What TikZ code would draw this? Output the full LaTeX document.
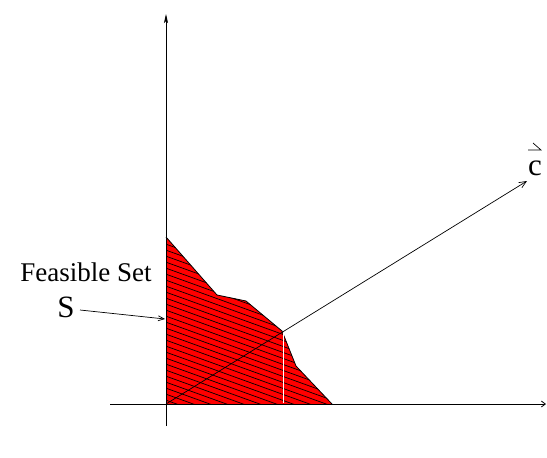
\documentclass[tikz,border=0pt]{standalone}
\usepackage{fontspec}
\setmainfont{Liberation Serif}
\usetikzlibrary{arrows.meta}
\begin{document}
\begin{tikzpicture}[x=1pt,y=-1pt,
  axis/.style={line width=0.8pt,-{Stealth[length=9pt,width=4pt,inset=2pt]}},
  vecline/.style={line width=0.7pt,-{Straight Barb[length=7pt,width=6pt]}},
  lbl/.style={inner sep=0pt,font=\fontsize{27}{30}\selectfont}]
\useasboundingbox (0,0) rectangle (547,458);
% feasible set
\coordinate (p0) at (166,404);
\coordinate (p1) at (166,237);
\coordinate (p2) at (217,295);
\coordinate (p3) at (246,301);
\coordinate (p4) at (282,331);
\coordinate (p5) at (296,366);
\coordinate (p6) at (332,404);
\fill[red] (p0)--(p1)--(p2)--(p3)--(p4)--(p5)--(p6)--cycle;
\begin{scope}
  \clip (p0)--(p1)--(p2)--(p3)--(p4)--(p5)--(p6)--cycle;
  \foreach \k in {-40,...,40} {
    \draw[line width=0.7pt] (160,{200+6*\k}) -- (340,{200+6*\k+65});
  }
\end{scope}
\draw[line width=0.8pt] (p1)--(p2)--(p3)--(p4)--(p5)--(p6);
% white line
\draw[white,line width=1pt] (283,333) -- (283,403);
% axes
\coordinate (xs) at (110,404);
\coordinate (xe) at (546,404);
\coordinate (ys) at (166,426);
\coordinate (ye) at (166,14);
\draw[line width=0.8pt,-{Straight Barb[length=4pt,width=6pt]}] (xs) -- (xe);
\draw[axis] (ys) -- (ye);
% vector c
\coordinate (ct) at (527,181);
\draw[vecline] (p0) -- (ct);
\node[lbl,anchor=base,font=\fontsize{31}{34}\selectfont] (c) at (535,175) {c};
\draw[line width=0.7pt] (528,150) -- (541,150) -- (533,143);
% labels
\node[lbl,anchor=base] (fs) at (86,281) {Feasible Set};
\node[lbl,anchor=base,font=\fontsize{31}{34}\selectfont] (s) at (66,317) {S};
\coordinate (sa) at (165,319);
\draw[line width=0.7pt,-{Straight Barb[length=6pt,width=5pt]}] (80,310) -- (sa);
\end{tikzpicture}
\end{document}
